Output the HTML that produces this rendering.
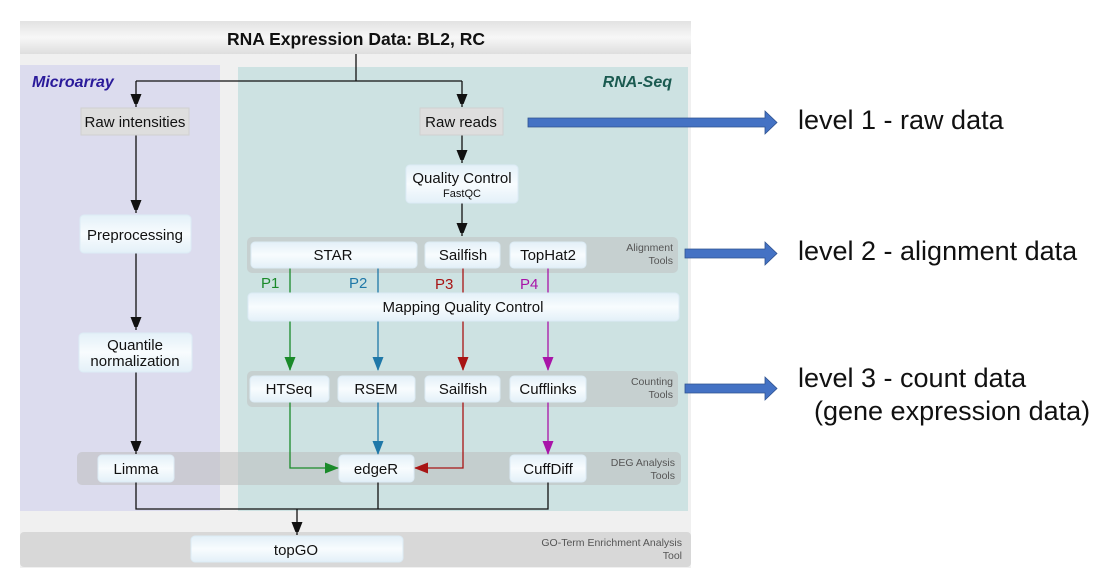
<!DOCTYPE html>
<html><head><meta charset="utf-8"><style>
html,body{margin:0;padding:0;background:#fff;}
svg{display:block;font-family:"Liberation Sans",sans-serif;}
</style></head><body>
<svg width="1114" height="577" viewBox="0 0 1114 577" xmlns="http://www.w3.org/2000/svg">
<defs>
<linearGradient id="tb" x1="0" y1="0" x2="0" y2="1"><stop offset="0" stop-color="#e2e2e2"/><stop offset="0.5" stop-color="#f7f7f7"/><stop offset="1" stop-color="#dedede"/></linearGradient>
<linearGradient id="bx" x1="0" y1="0" x2="0" y2="1"><stop offset="0" stop-color="#e3f0f8"/><stop offset="0.5" stop-color="#f8fcfe"/><stop offset="1" stop-color="#e3f0f8"/></linearGradient>
<marker id="ak" markerWidth="10" markerHeight="14" refX="13" refY="5.5" orient="auto" markerUnits="userSpaceOnUse"><path d="M0,0 L14,5.5 L0,11z" fill="#111"/></marker>
<marker id="ag" markerWidth="14" markerHeight="11" refX="13" refY="5.5" orient="auto" markerUnits="userSpaceOnUse"><path d="M0,0 L14,5.5 L0,11z" fill="#1a8a2a"/></marker>
<marker id="ab" markerWidth="14" markerHeight="11" refX="13" refY="5.5" orient="auto" markerUnits="userSpaceOnUse"><path d="M0,0 L14,5.5 L0,11z" fill="#1f78a8"/></marker>
<marker id="ar" markerWidth="14" markerHeight="11" refX="13" refY="5.5" orient="auto" markerUnits="userSpaceOnUse"><path d="M0,0 L14,5.5 L0,11z" fill="#a81414"/></marker>
<marker id="ap" markerWidth="14" markerHeight="11" refX="13" refY="5.5" orient="auto" markerUnits="userSpaceOnUse"><path d="M0,0 L14,5.5 L0,11z" fill="#a814a8"/></marker>
</defs>
<rect x="20" y="21" width="671" height="547" fill="#f0f0f0"/>
<rect x="20" y="21" width="671" height="33" fill="url(#tb)"/>
<text x="356" y="45" font-size="17.5" font-weight="bold" text-anchor="middle" fill="#111">RNA Expression Data: BL2, RC</text>
<rect x="20" y="65" width="200" height="446" fill="#dcdcee"/>
<rect x="238" y="67" width="450" height="444" fill="#cde2e2"/>
<text x="32" y="87" font-size="16" font-weight="bold" font-style="italic" fill="#2a1a9a">Microarray</text>
<text x="672" y="87" font-size="16" font-weight="bold" font-style="italic" fill="#1a5a50" text-anchor="end">RNA-Seq</text>
<rect x="247" y="237" width="431" height="36" rx="5" fill="#c4cccc" opacity="0.8"/>
<rect x="247" y="371" width="431" height="36" rx="5" fill="#c4cccc" opacity="0.8"/>
<rect x="77" y="452" width="604" height="33" rx="5" fill="#bdbdbd" opacity="0.55"/>
<rect x="20" y="532" width="671" height="35" rx="4" fill="#d8d8d8"/>
<g font-size="10.5" fill="#555" text-anchor="end">
<text x="673" y="251">Alignment</text><text x="673" y="264">Tools</text>
<text x="673" y="385">Counting</text><text x="673" y="398">Tools</text>
<text x="675" y="466">DEG Analysis</text><text x="675" y="479">Tools</text>
<text x="682" y="546">GO-Term Enrichment Analysis</text><text x="682" y="559">Tool</text>
</g>
<g fill="none" stroke="#111" stroke-width="1.3">
<path d="M356,54 V81 M136,81 H462"/>
<path d="M136,81 V107" marker-end="url(#ak)"/>
<path d="M462,81 V107" marker-end="url(#ak)"/>
<path d="M136,135 V213" marker-end="url(#ak)"/>
<path d="M136,253 V330" marker-end="url(#ak)"/>
<path d="M136,372 V454" marker-end="url(#ak)"/>
<path d="M462,135 V163" marker-end="url(#ak)"/>
<path d="M462,203 V236" marker-end="url(#ak)"/>
<path d="M136,482 V509 H548 V482 M378,482 V509"/>
<path d="M297,509 V535" marker-end="url(#ak)"/>
</g>
<g fill="none" stroke-width="1.3">
<path d="M290,268 V293 M290,321 V370" stroke="#1a8a2a" marker-end="url(#ag)"/>
<path d="M290,402 V468 H338" stroke="#1a8a2a" marker-end="url(#ag)"/>
<path d="M378,268 V293 M378,321 V370" stroke="#1f78a8" marker-end="url(#ab)"/>
<path d="M378,402 V454" stroke="#1f78a8" marker-end="url(#ab)"/>
<path d="M463,268 V293 M463,321 V370" stroke="#a81414" marker-end="url(#ar)"/>
<path d="M463,402 V468 H415" stroke="#a81414" marker-end="url(#ar)"/>
<path d="M548,268 V293 M548,321 V370" stroke="#a814a8" marker-end="url(#ap)"/>
<path d="M548,402 V454" stroke="#a814a8" marker-end="url(#ap)"/>
</g>
<g font-size="15">
<text x="261" y="288" fill="#1a8a2a">P1</text>
<text x="349" y="288" fill="#1f78a8">P2</text>
<text x="435" y="289" fill="#a81414">P3</text>
<text x="520" y="289" fill="#a814a8">P4</text>
</g>
<g fill="url(#bx)" stroke="#dcebf5" stroke-width="1">
<rect x="80" y="215" width="111" height="38" rx="4"/>
<rect x="79" y="333" width="113" height="39" rx="4"/>
<rect x="406" y="165" width="112" height="38" rx="4"/>
<rect x="251" y="242" width="166" height="26" rx="4"/>
<rect x="425" y="242" width="75" height="26" rx="4"/>
<rect x="510" y="242" width="76" height="26" rx="4"/>
<rect x="248" y="293" width="431" height="28" rx="4"/>
<rect x="250" y="376" width="79" height="26" rx="4"/>
<rect x="338" y="376" width="77" height="26" rx="4"/>
<rect x="425" y="376" width="75" height="26" rx="4"/>
<rect x="510" y="376" width="76" height="26" rx="4"/>
<rect x="98" y="455" width="76" height="27" rx="4"/>
<rect x="339" y="455" width="75" height="27" rx="4"/>
<rect x="510" y="455" width="76" height="27" rx="4"/>
<rect x="191" y="536" width="212" height="26" rx="4"/>
</g>
<rect x="81" y="108" width="108" height="27" fill="#dedede" stroke="#d0d0d0"/>
<rect x="420" y="108" width="83" height="27" fill="#dedede" stroke="#d0d0d0"/>
<g font-size="15" fill="#111" text-anchor="middle">
<text x="135" y="127">Raw intensities</text>
<text x="461" y="127">Raw reads</text>
<text x="462" y="183">Quality Control</text>
<text x="462" y="197" font-size="11">FastQC</text>
<text x="135" y="240">Preprocessing</text>
<text x="135" y="350">Quantile</text>
<text x="135" y="366">normalization</text>
<text x="333" y="260">STAR</text>
<text x="463" y="260">Sailfish</text>
<text x="548" y="260">TopHat2</text>
<text x="463" y="312">Mapping Quality Control</text>
<text x="289" y="394">HTSeq</text>
<text x="376" y="394">RSEM</text>
<text x="463" y="394">Sailfish</text>
<text x="548" y="394">Cufflinks</text>
<text x="136" y="474">Limma</text>
<text x="376" y="474">edgeR</text>
<text x="548" y="474">CuffDiff</text>
<text x="296" y="555">topGO</text>
</g>
<g fill="#4472c4" stroke="#2f528f" stroke-width="0.8">
<path d="M528,118 H765 V111 L777,122.5 L765,134 V127 H528z"/>
<path d="M685,249 H765 V242 L777,253.5 L765,265 V258 H685z"/>
<path d="M685,384 H765 V377 L777,388.5 L765,400 V393 H685z"/>
</g>
<g font-size="27" fill="#111">
<text x="798" y="129">level 1 - raw data</text>
<text x="798" y="260">level 2 - alignment data</text>
<text x="798" y="387">level 3 - count data</text>
<text x="814" y="420">(gene expression data)</text>
</g>
</svg>
</body></html>
